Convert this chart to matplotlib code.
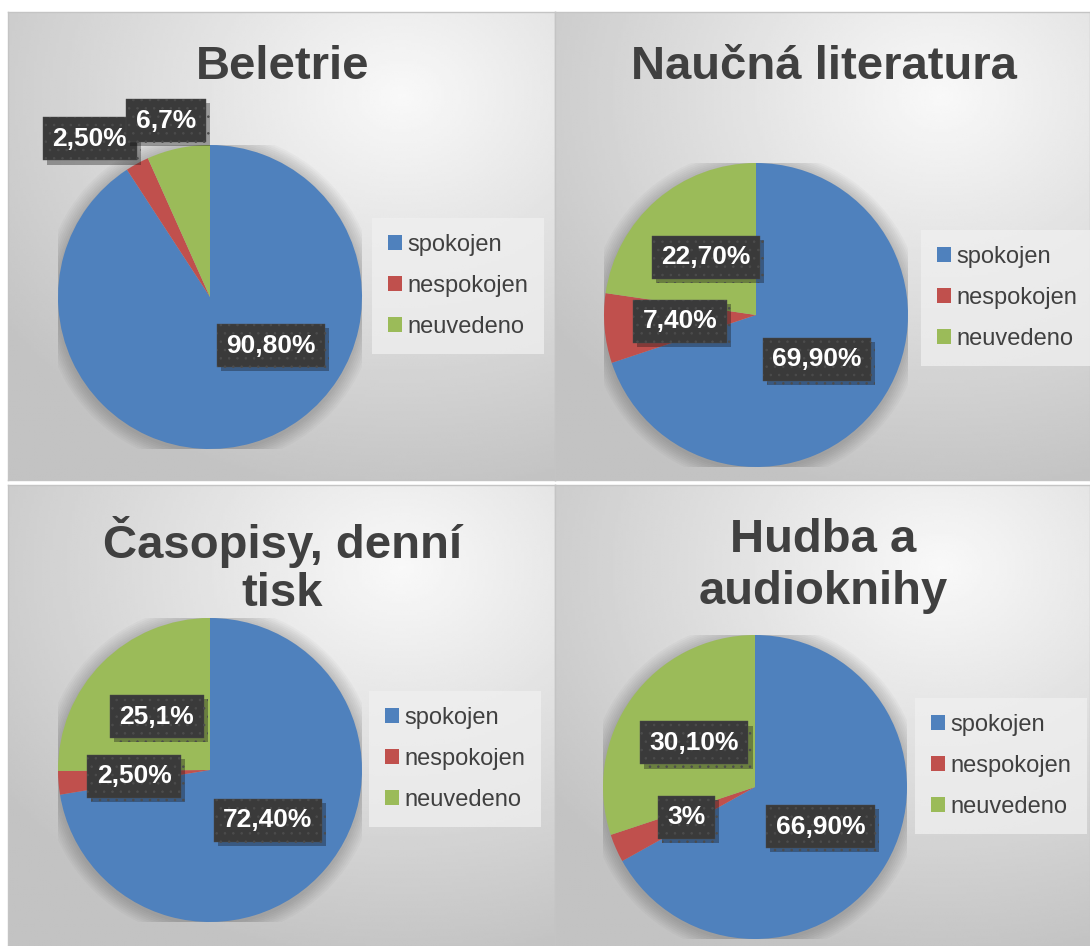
import numpy as np
import matplotlib.pyplot as plt
from matplotlib import patheffects

plt.rcParams['font.family'] = ['Liberation Sans', 'DejaVu Sans']
plt.rcParams['hatch.linewidth'] = 0.6

# data
categories = ['spokojen', 'nespokojen', 'neuvedeno']
colors = ['#4F81BD', '#C0504D', '#9BBB59']

titles = ['Beletrie', 'Naučná literatura', 'Časopisy, denní\ntisk', 'Hudba a\naudioknihy']
beletrie = [90.8, 2.5, 6.7]
naucna = [69.9, 7.4, 22.7]
casopisy = [72.4, 2.5, 25.1]
hudba = [66.9, 3.0, 30.1]
beletrie_labels = ['90,80%', '2,50%', '6,7%']
naucna_labels = ['69,90%', '7,40%', '22,70%']
casopisy_labels = ['72,40%', '2,50%', '25,1%']
hudba_labels = ['66,90%', '3%', '30,10%']

values = [beletrie, naucna, casopisy, hudba]
labels = [beletrie_labels, naucna_labels, casopisy_labels, hudba_labels]

# layout (pixels)
W, H = 1090, 946
panels = [(8, 12, 555, 480), (555, 12, 1090, 480), (8, 485, 555, 946), (555, 485, 1090, 946)]
pie_centers = [(210, 297), (756, 315), (210, 770), (755, 787)]
R = 152
legend_centers = [(458, 286), (1007, 298), (455, 759), (1001, 766)]
title_baselines = [[79], [79], [558, 606], [552, 604]]
label_pos = [
    [(0.40, -0.32), (-0.79, 1.04), (-0.29, 1.16)],
    [(0.40, -0.29), (-0.50, -0.04), (-0.33, 0.38)],
    [(0.38, -0.33), (-0.50, -0.04), (-0.35, 0.35)],
    [(0.43, -0.26), (-0.45, -0.20), (-0.40, 0.29)],
]


def fx(px):
    return px / W


def fy(py):
    return 1 - py / H


fig = plt.figure(figsize=(W / 100, H / 100), dpi=100)
fig.patch.set_facecolor('white')

for i in range(4):
    x0, y0, x1, y1 = panels[i]

    # panel background with radial gradient
    bg = fig.add_axes([fx(x0), fy(y1), fx(x1 - x0), (y1 - y0) / H])
    gx, gy = np.meshgrid(np.linspace(0, 1, 200), np.linspace(0, 1, 200))
    d = np.sqrt(((gx - 0.72) * 1.0) ** 2 + ((gy - 0.18) * 1.05) ** 2)
    shade = 0.975 - 0.21 * np.clip(d / 0.9, 0, 1)
    bg.imshow(shade, cmap='gray', vmin=0, vmax=1, extent=[0, 1, 0, 1],
              origin='upper', aspect='auto', interpolation='bilinear')
    bg.set_xticks([])
    bg.set_yticks([])
    for s in bg.spines.values():
        s.set_color('#c4c4c4')
        s.set_linewidth(1)

    # pie
    cx, cy = pie_centers[i]
    ax = fig.add_axes([fx(cx - R), fy(cy + R), 2 * R / W, 2 * R / H])
    ax.set_xlim(-1, 1)
    ax.set_ylim(-1, 1)
    ax.axis('off')
    for k in range(8):
        sh = plt.Circle((0.0, -0.01), 1.0 + 0.012 * (k + 1), color='black',
                        alpha=0.025, zorder=0, lw=0)
        ax.add_patch(sh)
    wedges, _ = ax.pie(values[i], colors=colors, startangle=90, counterclock=False,
                       radius=1, wedgeprops=dict(linewidth=0, zorder=2))
    ax.set_aspect('equal')
    ax.set_xlim(-1, 1)
    ax.set_ylim(-1, 1)

    for j in range(3):
        lx, ly = label_pos[i][j]
        t = ax.text(lx, ly, labels[i][j], ha='center', va='center', color='white',
                    fontsize=19, fontweight='bold', zorder=5,
                    bbox=dict(boxstyle='square,pad=0.36', facecolor='#3a3a3a',
                              edgecolor='#4c4c4c', linewidth=0.3, hatch='..'))
        t.get_bbox_patch().set_path_effects([
            patheffects.SimplePatchShadow(offset=(3, -3), alpha=0.35),
            patheffects.Normal()])

    # title
    lines = titles[i].split('\n')
    tx = (x0 + x1) / 2 + 1
    for ln, base in zip(lines, title_baselines[i]):
        fig.text(fx(tx), fy(base), ln, ha='center', va='baseline',
                 fontsize=34, fontweight='bold', color='#404040')

    # legend
    lgx, lgy = legend_centers[i]
    leg = fig.legend(wedges, categories, loc='center',
                     bbox_to_anchor=(fx(lgx), fy(lgy)), fontsize=17,
                     frameon=True, fancybox=False, handlelength=0.6,
                     handleheight=0.6, handletextpad=0.2, labelspacing=0.8,
                     borderpad=0.7, borderaxespad=0)
    leg.get_frame().set_facecolor('#f0f0f0')
    leg.get_frame().set_alpha(0.75)
    leg.get_frame().set_edgecolor('none')
    for txt in leg.get_texts():
        txt.set_color('#404040')

fig.savefig('out.png', dpi=100, facecolor='white')
